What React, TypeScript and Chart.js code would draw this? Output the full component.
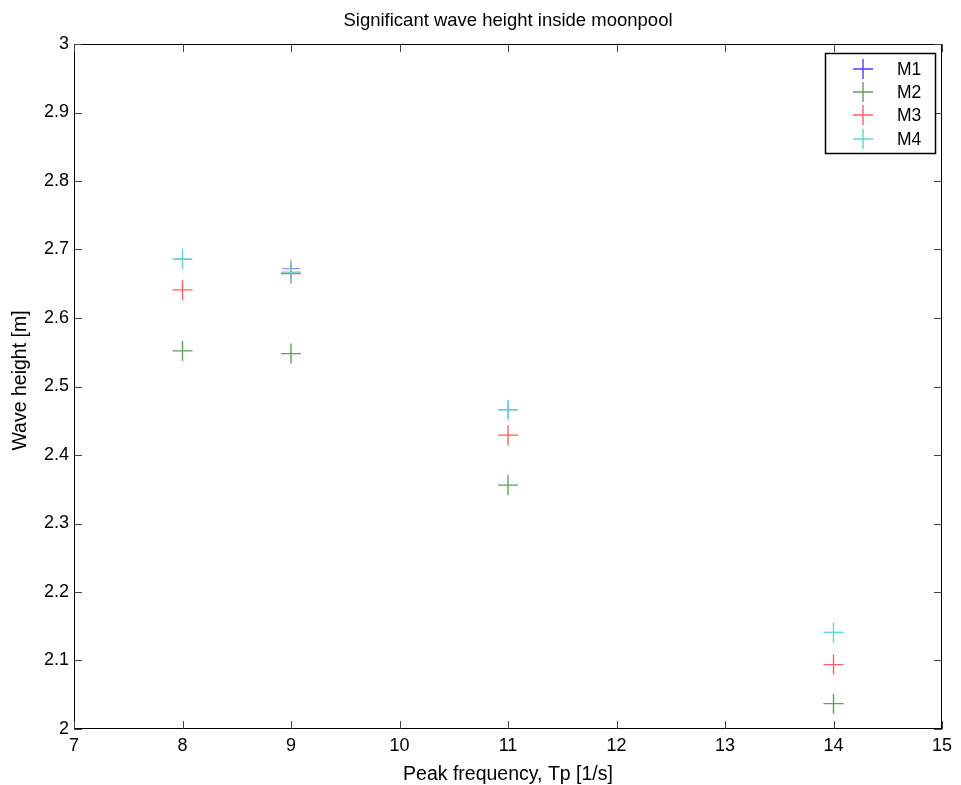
import React, { useEffect, useRef } from "react";
import { Chart, registerables } from "chart.js";

Chart.register(...registerables);

const titleText = "Significant wave height inside moonpool";
const xTitle = "Peak frequency, Tp [1/s]";
const yTitle = "Wave height [m]";

const xValues = [8, 9, 11, 14];
const seriesNames = ["M1", "M2", "M3", "M4"];
const m1 = [2.686, 2.672, 2.466, 2.141];
const m2 = [2.552, 2.548, 2.356, 2.037];
const m3 = [2.641, 2.665, 2.429, 2.094];
const m4 = [2.686, 2.667, 2.466, 2.141];
const seriesColors = [
  "rgb(70,70,250)",
  "rgb(95,160,95)",
  "rgb(255,95,95)",
  "rgb(95,212,212)",
];
const xMin = 7, xMax = 15, yMin = 2, yMax = 3;

const FONT = "'Liberation Sans', Arial, sans-serif";

const framePlugin = {
  id: "frame",
  afterDraw(chart: any) {
    const { ctx, chartArea: a, scales } = chart;
    ctx.save();
    ctx.strokeStyle = "#000";
    ctx.lineWidth = 1;
    ctx.strokeRect(a.left + 0.5, a.top + 0.5, a.right - a.left - 1, a.bottom - a.top - 1);
    const tl = 8;
    ctx.strokeStyle = "#444";
    ctx.beginPath();
    scales.x.ticks.forEach((t: any) => {
      const px = Math.round(scales.x.getPixelForValue(t.value)) + 0.5;
      ctx.moveTo(px, a.bottom);
      ctx.lineTo(px, a.bottom - tl);
      ctx.moveTo(px, a.top);
      ctx.lineTo(px, a.top + tl);
    });
    scales.y.ticks.forEach((t: any) => {
      const py = Math.round(scales.y.getPixelForValue(t.value)) + 0.5;
      ctx.moveTo(a.left, py);
      ctx.lineTo(a.left + tl, py);
      ctx.moveTo(a.right, py);
      ctx.lineTo(a.right - tl, py);
    });
    ctx.stroke();

    // titles
    ctx.fillStyle = "#000";
    ctx.textAlign = "center";
    ctx.textBaseline = "middle";
    ctx.font = `18.5px ${FONT}`;
    ctx.fillText(titleText, (a.left + a.right) / 2, 21);
    ctx.font = `19.5px ${FONT}`;
    ctx.fillText(xTitle, (a.left + a.right) / 2, 775);
    ctx.save();
    ctx.translate(21, (a.top + a.bottom) / 2 - 6);
    ctx.rotate(-Math.PI / 2);
    ctx.fillText(yTitle, 0, 0);
    ctx.restore();

    // legend
    const lx = 825, ly = 53, lw = 110, lh = 100;
    ctx.fillStyle = "#fff";
    ctx.fillRect(lx, ly, lw, lh);
    ctx.strokeStyle = "#000";
    ctx.lineWidth = 1.5;
    ctx.strokeRect(lx + 0.5, ly + 0.5, lw, lh);
    const rows = [69, 92, 115, 139];
    chart.data.datasets.forEach((ds: any, i: number) => {
      const cy = rows[i];
      const cx = 863;
      ctx.strokeStyle = ds.borderColor;
      ctx.lineWidth = 1.4;
      ctx.beginPath();
      ctx.moveTo(cx - 10, cy);
      ctx.lineTo(cx + 10, cy);
      ctx.moveTo(cx, cy - 10);
      ctx.lineTo(cx, cy + 10);
      ctx.stroke();
      ctx.fillStyle = "#000";
      ctx.font = `17.5px ${FONT}`;
      ctx.textAlign = "left";
      ctx.fillText(ds.label, 897, cy + 1);
    });
    ctx.restore();
  },
};

export default function App() {
  const ref = useRef<HTMLCanvasElement>(null);
  useEffect(() => {
    const series = [m1, m2, m3, m4];
    const chart = new Chart(ref.current!, {
      type: "scatter",
      data: {
        datasets: series.map((s, i) => ({
          label: seriesNames[i],
          data: s.map((y, j) => ({ x: xValues[j], y })),
          order: series.length - i,
          pointStyle: "cross",
          pointRadius: i === 0 ? 9 : 10,
          pointHoverRadius: 10,
          borderColor: seriesColors[i],
          backgroundColor: seriesColors[i],
          pointBorderWidth: i === 0 ? 0.7 : 1.4,
          showLine: false,
        })),
      },
      options: {
        animation: false,
        responsive: false,
        events: [],
        layout: { padding: { top: 44, right: 19, left: 0, bottom: 0 } },
        plugins: {
          legend: { display: false },
          title: { display: false },
          tooltip: { enabled: false },
        },
        scales: {
          x: {
            type: "linear",
            min: xMin,
            max: xMax,
            ticks: {
              stepSize: 1,
              color: "#000",
              font: { family: FONT, size: 18 },
              padding: 6,
              maxRotation: 0,
            },
            grid: { display: false, drawTicks: false },
            border: { display: false },
            afterFit: (s: any) => { s.height = 56; },
          },
          y: {
            type: "linear",
            min: yMin,
            max: yMax,
            ticks: {
              stepSize: 0.1,
              color: "#000",
              font: { family: FONT, size: 18 },
              padding: 5,
              callback: (v: any) => String(Math.round(Number(v) * 10) / 10),
            },
            grid: { display: false, drawTicks: false },
            border: { display: false },
            afterFit: (s: any) => { s.width = 74; },
          },
        },
      },
      plugins: [framePlugin],
    });
    return () => chart.destroy();
  }, []);
  return (
    <div style={{ position: "absolute", left: 0, top: 0, width: 961, height: 785, background: "#fff" }}>
      <canvas ref={ref} width={961} height={785} style={{ width: 961, height: 785 }} />
    </div>
  );
}
